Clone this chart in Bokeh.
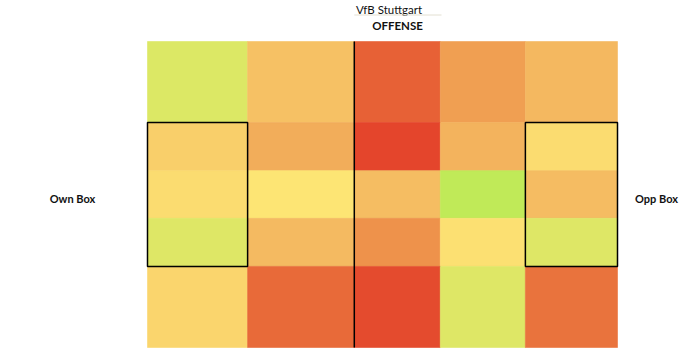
import numpy as np
from bokeh.plotting import figure
from bokeh.models import ColumnDataSource, LinearColorMapper, Range1d
from bokeh.core.properties import value
from bokeh.embed import file_html
from bokeh.resources import INLINE

# ---------------- data ----------------
team = "VfB Stuttgart"
phase = "OFFENSE"
left_label = "Own Box"
right_label = "Opp Box"

# zone edges along pitch length (0-100) and across pitch width (0-100, top to bottom)
x_edges = [0, 21.3, 44.0, 62.3, 80.4, 100]
y_edges = [0, 26.5, 42.2, 57.8, 73.5, 100]

# intensity per zone (rows top->bottom, columns own goal -> opponent goal)
values = [
    [15, 50, 88, 65, 55],
    [42, 59, 98, 57, 35],
    [35, 30, 52, 2, 53],
    [16, 54, 70, 33, 16],
    [39, 85, 96, 16, 82],
]

# colour scale stops (value, colour)
stops = [(0, "#BCEA56"), (30, "#FDE574"), (55, "#F4B860"), (75, "#EC8644"), (100, "#E3402A")]


def build_palette(stops, n=256):
    pos = np.array([s[0] for s in stops], dtype=float)
    cols = np.array([[int(s[1][i:i + 2], 16) for i in (1, 3, 5)] for s in stops], dtype=float)
    t = np.linspace(pos[0], pos[-1], n)
    out = []
    for v in t:
        rgb = [np.interp(v, pos, cols[:, k]) for k in range(3)]
        out.append("#%02x%02x%02x" % tuple(int(round(c)) for c in rgb))
    return out


palette = build_palette(stops)
mapper = LinearColorMapper(palette=palette, low=0, high=100)

rows = len(values)
cols = len(values[0])
left, right, top, bottom, val = [], [], [], [], []
for r in range(rows):
    for c in range(cols):
        left.append(x_edges[c])
        right.append(x_edges[c + 1])
        top.append(y_edges[r])
        bottom.append(y_edges[r + 1])
        val.append(values[r][c])
src = ColumnDataSource(dict(left=left, right=right, top=top, bottom=bottom, v=val))

# ---------------- figure ----------------
W, H = 698, 354
fx0, fx1 = 147, 617   # pitch pixel extents
fy0, fy1 = 41, 347
sx = (fx1 - fx0) / 100.0
sy = (fy1 - fy0) / 100.0

p = figure(width=W, height=H, output_backend="svg", toolbar_location=None,
           x_range=Range1d(-fx0 / sx, 100 + (W - fx1) / sx),
           y_range=Range1d(100 + (H - fy1) / sy, -fy0 / sy),
           min_border=0, outline_line_color=None)
p.axis.visible = False
p.grid.visible = False
p.background_fill_color = "white"
p.border_fill_color = "white"

cmap = {"field": "v", "transform": mapper}
p.quad(left="left", right="right", top="top", bottom="bottom", source=src,
       fill_color=cmap, line_color=cmap, line_width=0.6)

# divider and boxes
p.segment(x0=[x_edges[2]], y0=[y_edges[0]], x1=[x_edges[2]], y1=[y_edges[-1]],
          line_color="black", line_width=1.5)
p.quad(left=[x_edges[0], x_edges[4]], right=[x_edges[1], x_edges[5]],
       top=[y_edges[1], y_edges[1]], bottom=[y_edges[4], y_edges[4]],
       fill_color=None, line_color="black", line_width=1.5)

font = value("Lato")
# title texts
p.text(x=[(388.5 - fx0) / sx], y=[(9 - fy0) / sy], text=[team],
       text_font=font, text_font_size="11.5px", text_align="center",
       text_baseline="alphabetic", text_color="#111111")
p.segment(x0=[x_edges[2]], y0=[(14.5 - fy0) / sy], x1=[(441 - fx0) / sx], y1=[(14.5 - fy0) / sy],
          line_color="#E3E0D2", line_width=1)
p.text(x=[(397 - fx0) / sx], y=[(25 - fy0) / sy], text=[phase],
       text_font=font, text_font_size="11.5px", text_font_style="bold",
       text_align="center", text_baseline="alphabetic", text_color="#111111")

# side labels
p.text(x=[(72 - fx0) / sx, (656 - fx0) / sx], y=[(198 - fy0) / sy] * 2,
       text=[left_label, right_label], text_font=font, text_font_size="11px",
       text_font_style="bold", text_align="center", text_baseline="alphabetic",
       text_color="#111111")

open("out.html", "w").write(file_html(p, INLINE))
